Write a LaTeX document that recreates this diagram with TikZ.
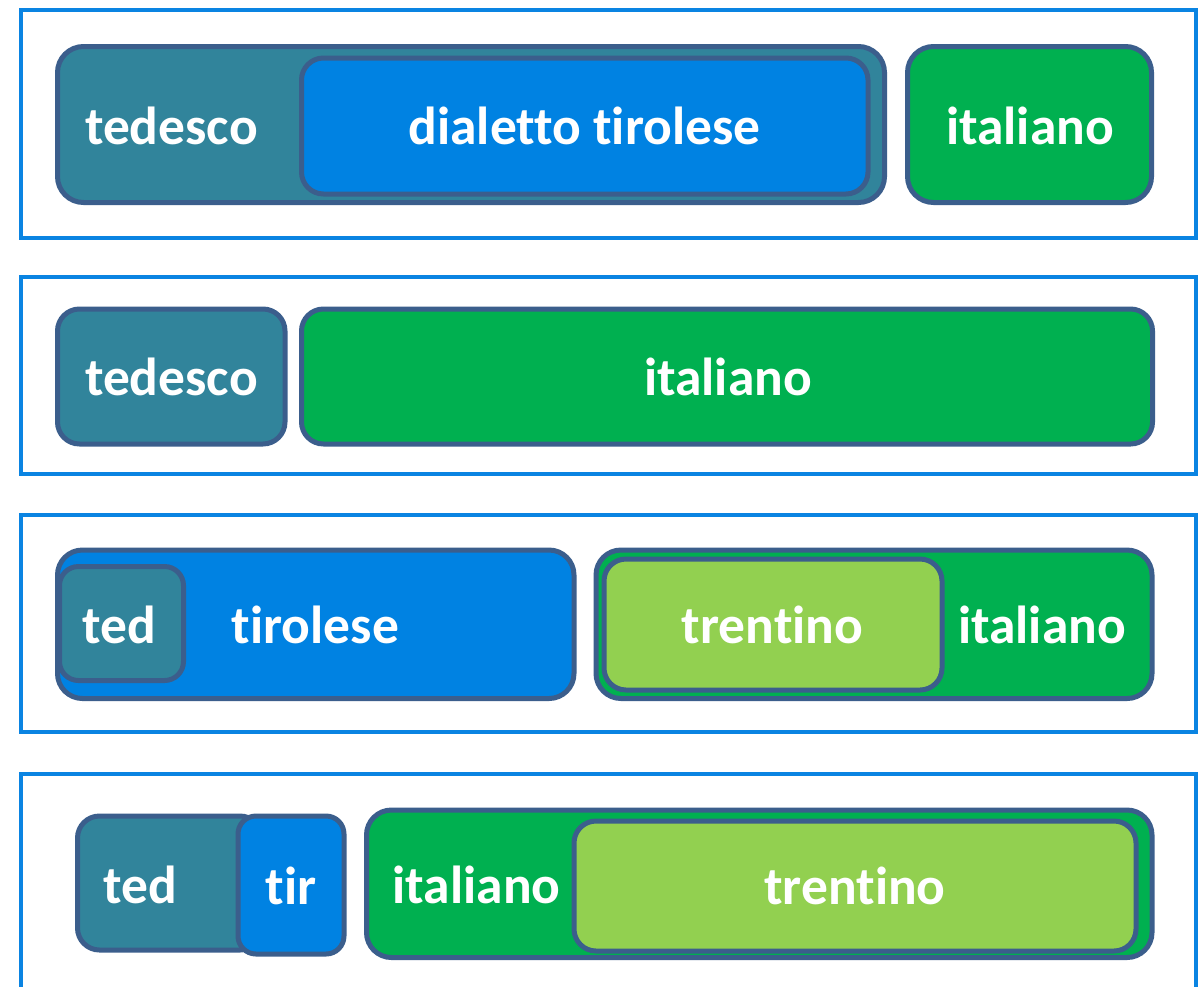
\documentclass[tikz,border=0pt]{standalone}
\usepackage{fontspec}
\setmainfont{Carlito}[Ligatures={NoCommon}]
\definecolor{frameblue}{RGB}{10,132,226}
\definecolor{boxline}{RGB}{59,94,140}
\definecolor{tedteal}{RGB}{49,132,155}
\definecolor{tirblue}{RGB}{0,130,226}
\definecolor{itagreen}{RGB}{0,176,80}
\definecolor{trelight}{RGB}{146,208,80}
\tikzset{
  panel/.style={draw=frameblue, line width=3.2pt},
  lang/.style={draw=boxline, line width=5pt, rectangle, inner sep=0pt, outer sep=0pt},
  lbl/.style={anchor=base, inner sep=0pt, text=white,
    font=\fontsize{53.5}{60}\selectfont\bfseries},
}
\begin{document}
\begin{tikzpicture}[x=1pt, y=-1pt]
\useasboundingbox (0,0) rectangle (1198,986);
\fill[white] (0,0) rectangle (1198,986);

% panel frames
\draw[panel] (21,10) rectangle (1196,238);
\draw[panel] (21,277) rectangle (1196,474);
\draw[panel] (21,515) rectangle (1196,732);
\draw[panel] (21,1000) -- (21,774) -- (1196,774) -- (1196,1000);

% row 1: tedesco containing the Tyrolean dialect, italiano beside it
\node[lang, fill=tedteal, minimum width=827pt, minimum height=156pt, rounded corners=26pt] (ted1) at (471,124.5) {};
\node[lang, fill=tirblue, minimum width=566.5pt, minimum height=136pt, rounded corners=22pt] (dial1) at (584.75,126) {};
\node[lang, fill=itagreen, minimum width=244pt, minimum height=156pt, rounded corners=26pt] (ita1) at (1029.5,124.5) {};
\node[lbl] (t1a) at (171.5,144) {tedesco};
\node[lbl] (t1b) at (584.5,144) {dialetto tirolese};
\node[lbl] (t1c) at (1030,144) {italiano};

% row 2: tedesco and italiano
\node[lang, fill=tedteal, minimum width=227.5pt, minimum height=135pt, rounded corners=22pt] (ted2) at (171.25,376.5) {};
\node[lang, fill=itagreen, minimum width=851pt, minimum height=135pt, rounded corners=22pt] (ita2) at (727,376.5) {};
\node[lbl] (t2a) at (171.5,395) {tedesco};
\node[lbl] (t2b) at (728,395) {italiano};

% row 3: tirolese with ted inside, italiano with trentino inside
\node[lang, fill=tirblue, minimum width=516.5pt, minimum height=148.5pt, rounded corners=25pt] (tir3) at (315.75,624.25) {};
\node[lang, fill=tedteal, minimum width=124pt, minimum height=114pt, rounded corners=19pt] (ted3) at (121.5,623.5) {};
\node[lang, fill=itagreen, minimum width=556pt, minimum height=148.5pt, rounded corners=25pt] (ita3) at (874,624.25) {};
\node[lang, fill=trelight, minimum width=338pt, minimum height=131pt, rounded corners=22pt] (tre3) at (773,624.5) {};
\node[lbl] (t3a) at (119.5,643.5) {ted};
\node[lbl] (t3b) at (315.5,643.5) {tirolese};
\node[lbl] (t3c) at (772.5,643.5) {trentino};
\node[lbl] (t3d) at (1042,643.5) {italiano};

% row 4: ted overlapped by tir, italiano with trentino inside
\node[lang, fill=tedteal, minimum width=184.5pt, minimum height=134pt, rounded corners=22pt] (ted4) at (169.75,883) {};
\node[lang, fill=tirblue, minimum width=106pt, minimum height=138pt, rounded corners=18pt] (tir4) at (291,885) {};
\node[lang, fill=itagreen, minimum width=785.5pt, minimum height=147.5pt, rounded corners=25pt] (ita4) at (759.25,883.75) {};
\node[lang, fill=trelight, minimum width=562pt, minimum height=130pt, rounded corners=22pt] (tre4) at (855,886) {};
\node[lbl] (t4a) at (140.5,903.5) {ted};
\node[lbl] (t4b) at (291,904) {tir};
\node[lbl] (t4c) at (476.5,903.5) {italiano};
\node[lbl] (t4d) at (855,904) {trentino};
\end{tikzpicture}
\end{document}
